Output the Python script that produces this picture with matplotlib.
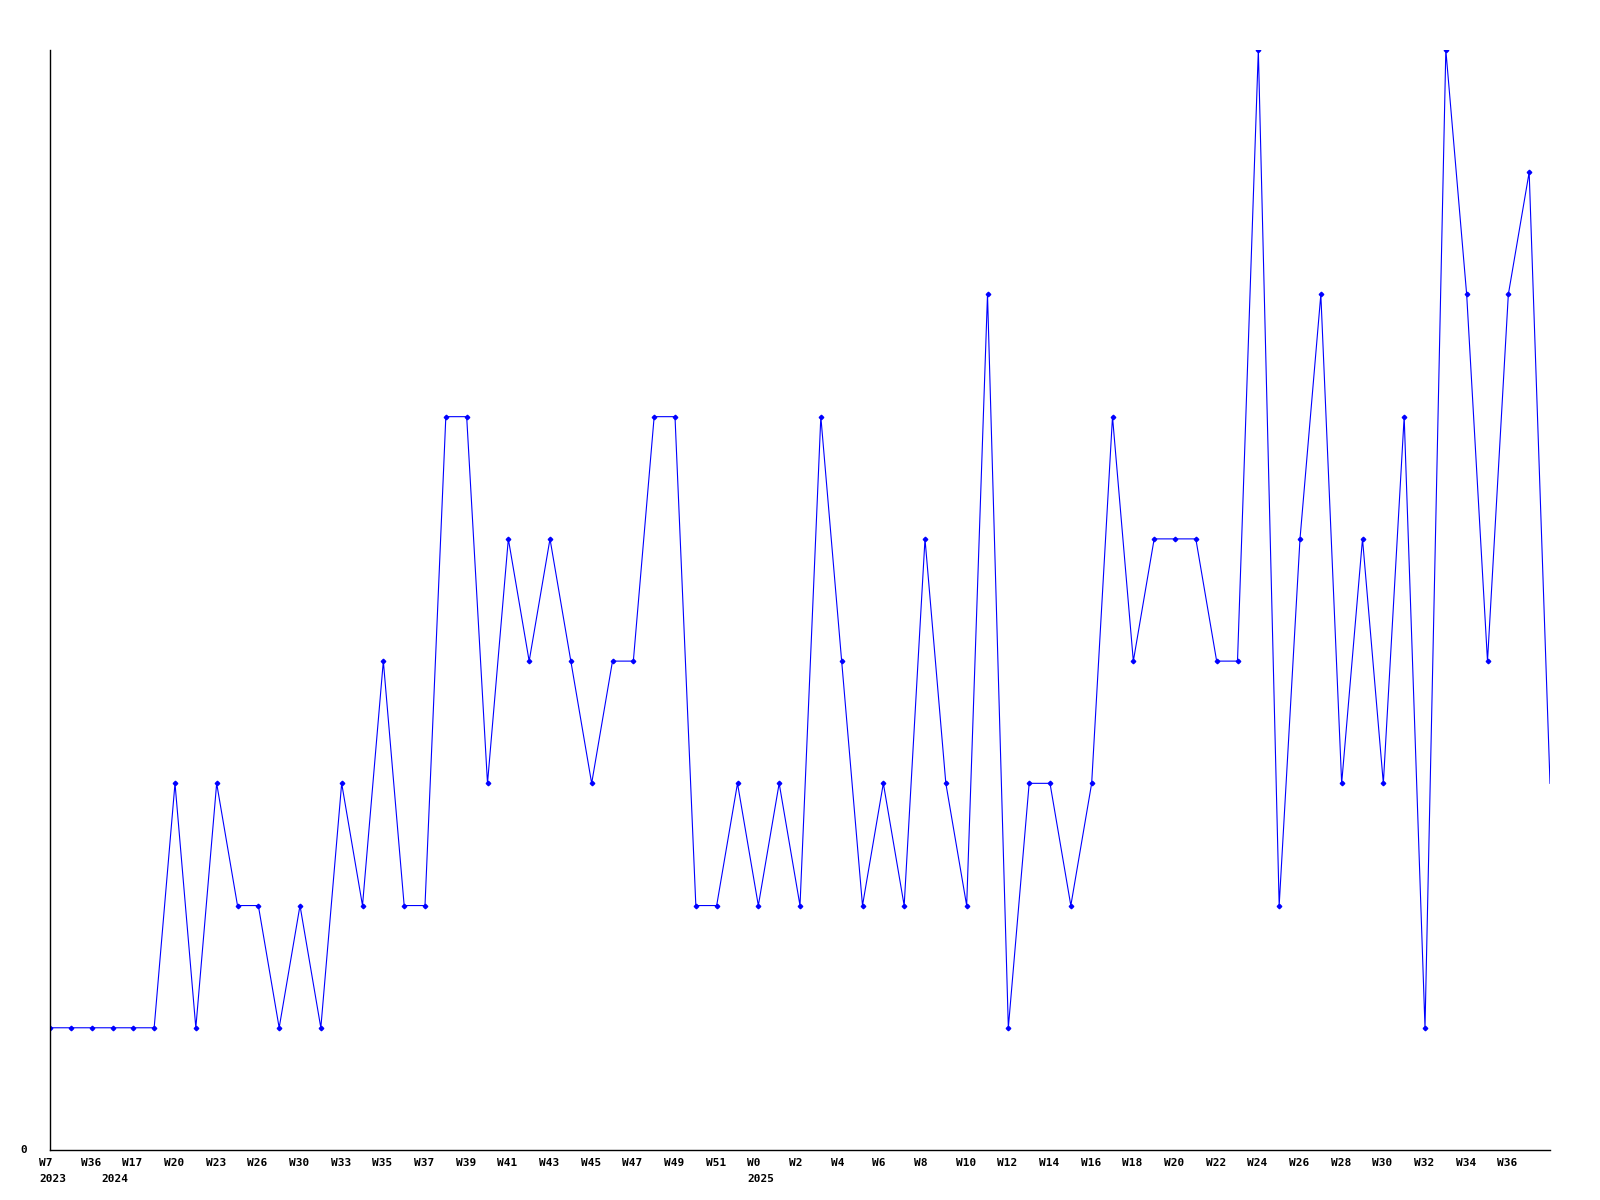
import matplotlib.pyplot as plt
from matplotlib.transforms import offset_copy

# valores semanales (uno por punto)
valores = [1, 1, 1, 1, 1, 1, 3, 1, 3, 2, 2, 1, 2, 1, 3, 2, 4, 2, 2, 6,
           6, 3, 5, 4, 5, 4, 3, 4, 4, 6, 6, 2, 2, 3, 2, 3, 2, 6, 4, 2,
           3, 2, 5, 3, 2, 7, 1, 3, 3, 2, 3, 6, 4, 5, 5, 5, 4, 4, 9, 2,
           5, 7, 3, 5, 3, 6, 1, 9, 7, 4, 7, 8, 3]

# etiquetas del eje x, una cada dos puntos
semanas = ["W7", "W36", "W17", "W20", "W23", "W26", "W30", "W33", "W35",
           "W37", "W39", "W41", "W43", "W45", "W47", "W49", "W51", "W0",
           "W2", "W4", "W6", "W8", "W10", "W12", "W14", "W16", "W18", "W20",
           "W22", "W24", "W26", "W28", "W30", "W32", "W34", "W36"]

# años y el punto donde empiezan
anios = ["2023", "2024", "2025"]
anios_pos = [0, 3, 34]

x = list(range(len(valores)))

fig = plt.figure(figsize=(16, 12), dpi=100)
ax = fig.add_axes([50/1600, 50/1200, 1500/1600, 1100/1200])

ax.plot(x, valores, color='#0000ff', linewidth=0.8)
# el ultimo punto queda en el borde, sin marcador
ax.plot(x[:-1], valores[:-1], linestyle='none', marker='D',
        markersize=2.3, color='#0000ff')

ax.set_xlim(0, len(valores) - 1)
ax.set_ylim(0, 9)

for lado in ['top', 'right']:
    ax.spines[lado].set_visible(False)
ax.spines['left'].set_linewidth(1)
ax.spines['bottom'].set_linewidth(1)

ax.set_xticks([])
ax.set_yticks([])

fuente = dict(family='DejaVu Sans Mono', fontweight='bold', fontsize=8)

trans = offset_copy(ax.get_xaxis_transform(), fig=fig, x=-11, y=-8, units='dots')
for i, s in enumerate(semanas):
    ax.text(2*i, 0, s, transform=trans, ha='left', va='top', **fuente)

trans2 = offset_copy(ax.get_xaxis_transform(), fig=fig, x=-11, y=-24, units='dots')
for a, p in zip(anios, anios_pos):
    ax.text(p, 0, a, transform=trans2, ha='left', va='top', **fuente)

# etiqueta del cero en el eje y
trans3 = offset_copy(ax.get_yaxis_transform(), fig=fig, x=-30, y=0, units='dots')
ax.text(0, 0, "0", transform=trans3, ha='left', va='center', **fuente)

plt.savefig('out.png', dpi=100)
